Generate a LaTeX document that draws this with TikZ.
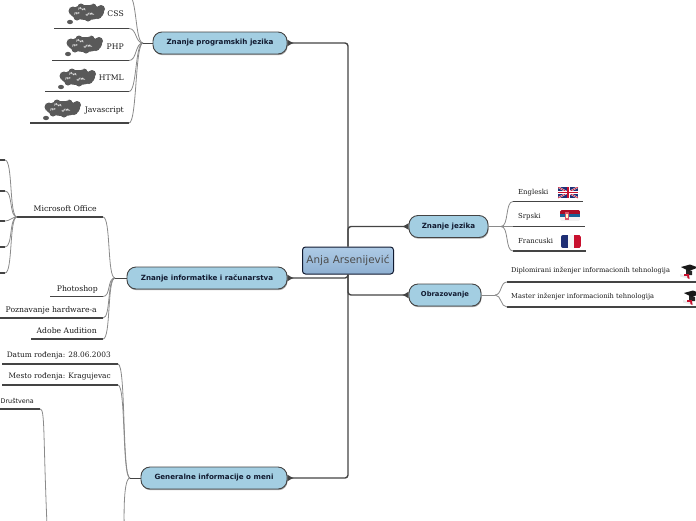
\documentclass[tikz,border=0pt]{standalone}
\usepackage{fontspec}
\setmainfont{DejaVu Serif}
\setsansfont{DejaVu Sans}
\usetikzlibrary{shadows,arrows.meta}
\definecolor{topicfill}{HTML}{A3CEE2}
\definecolor{rootup}{HTML}{AECBE6}
\definecolor{rootdown}{HTML}{8FB0D2}
\definecolor{linedark}{HTML}{444444}
\definecolor{linegray}{HTML}{8A8A8A}
\definecolor{inktext}{HTML}{111A30}
\definecolor{ukblue}{HTML}{1F2F75}
\definecolor{ukred}{HTML}{C8102E}
\tikzset{
  topic/.style={draw=linedark,line width=0.9pt,fill=topicfill,rounded corners=9pt,minimum height=22pt,
    inner sep=0pt,font=\sffamily\bfseries\fontsize{7.15}{9}\selectfont,text=inktext,
    drop shadow={shadow xshift=0.6pt,shadow yshift=-1.2pt,opacity=.35,fill=black}},
  rootbox/.style={draw=inktext,line width=1pt,rounded corners=3pt,top color=rootup,bottom color=rootdown,
    minimum width=91pt,minimum height=27pt,inner sep=0pt,text=black!70,font=\sffamily\fontsize{10.4}{12}\selectfont},
  leaf/.style={anchor=east,inner sep=0pt,font=\fontsize{7.7}{9}\selectfont,text=black!90},
  leafg/.style={anchor=east,inner sep=0pt,font=\fontsize{7.4}{9}\selectfont,text=black!90},
  leafw/.style={anchor=west,inner sep=0pt,font=\fontsize{6.9}{9}\selectfont,text=black!90},
  edu/.style={anchor=west,inner sep=0pt,font=\fontsize{6.68}{8}\selectfont,text=black!90},
  trunk/.style={draw=linedark,line width=1.4pt,rounded corners=3pt,{Latex[length=6.5pt,width=7pt,reversed]}-},
  under/.style={draw=linedark,line width=1.2pt},
  curve/.style={draw=linegray,line width=0.8pt,max distance=8pt},
  stub/.style={draw=linedark,line width=0.9pt},
  cloudpart/.style={fill=black!65,draw=none},
  cloudword/.style={text=white,inner sep=0pt,font=\sffamily\bfseries\fontsize{2.8}{3}\selectfont},
  pics/cloudy/.style={code={
    \fill[cloudpart] (19,8.5) ellipse (17 and 7.5);
    \fill[cloudpart] (5,7) circle (4.5) (13,3) circle (3.5) (25,3) circle (3.5) (33,5) circle (4) (9,13) circle (3.5) (20,14) circle (3.5) (30,11) circle (4);
    \fill[cloudpart] (2,18) ellipse (3 and 2.2);
    \node[cloudword] at (22,0.8) {PHP};
    \node[cloudword,rotate=-10] at (14,5.5) {JAVA};
    \node[cloudword,rotate=-10] at (9,10) {JSP};
    \node[cloudword,rotate=8] at (22,10.5) {HTML};
  }},
  pics/capicon/.style={code={
    \fill[black!8] (-7,11) -- (3,13.5) -- (3,16) -- (-7,13.5) -- cycle;
    \fill[black!85] (-1,6) -- (5,8) -- (5,12) -- (-1,12) -- cycle;
    \fill[black!90] (-6,4) -- (3,1.5) -- (11,4.5) -- (2,8) -- cycle;
    \fill[ukred] (-3,10.5) rectangle (2,12.5);
    \fill[ukred] (0,12) -- (2,12) -- (2.5,16) -- (0.5,15) -- cycle;
  }}
}
\begin{document}
\begin{tikzpicture}[x=1pt,y=-1pt]
\useasboundingbox (0,0) rectangle (696,520);
\clip (0,0) rectangle (696,520);
% --- nodes
\node[rootbox] (root) at (348,260.5) {Anja Arsenijević};
\node[topic,minimum width=134pt] (prog) at (220,43) {Znanje programskih jezika};
\node[topic,minimum width=160pt] (info) at (207,278) {Znanje informatike i računarstva};
\node[topic,minimum width=146pt] (gen) at (214,478) {Generalne informacije o meni};
\node[topic,minimum width=79pt] (jez) at (448.5,226.5) {Znanje jezika};
\node[topic,minimum width=72pt,font=\sffamily\bfseries\fontsize{6.8}{9}\selectfont] (obr) at (445,295) {Obrazovanje};
% --- trunk connectors
\draw[trunk] (prog.east) -| (root.north);
\draw[trunk] (info.east) -| (root.south);
\draw[trunk] (gen.east) -| (root.south);
\draw[trunk] (jez.west) -| (root.north);
\draw[trunk] (obr.west) -| (root.south);
% --- programming languages
\coordinate (progF) at (143,43);
\coordinate (topEnd) at (129,-4);
\foreach \nm/\xa/\yy in {css/54/28.5,php/52/60.5,html/45/91.5,js/30/123}{
  \coordinate (\nm A) at (\xa,\yy);
  \coordinate (\nm B) at (129,\yy);
  \draw[under] (\nm A) -- (\nm B);
  \draw[curve] (\nm B) to[out=0,in=180] (progF);
}
\draw[curve] (topEnd) to[out=0,in=180] (progF);
\draw[stub] (progF) -- (prog.west);
\node[leaf] (cssT) at (124,14) {CSS};
\node[leaf] (phpT) at (124,47) {PHP};
\node[leaf] (htmlT) at (124,78) {HTML};
\node[leaf] (jsT) at (124,110) {Javascript};
\pic at (68,4) {cloudy};
\pic at (66,36) {cloudy};
\pic at (59,69) {cloudy};
\pic at (44,100) {cloudy};
% --- informatics
\coordinate (infoF) at (115,278);
\foreach \nm/\xa/\yy in {ms/17/217,ps/50/296.5,hw/0/318,au/31/339}{
  \coordinate (\nm A) at (\xa,\yy);
  \coordinate (\nm B) at (103,\yy);
  \draw[under] (\nm A) -- (\nm B);
  \draw[curve] (\nm B) to[out=0,in=180] (infoF);
}
\draw[stub] (infoF) -- (info.west);
\node[leaf] (msT) at (97,209) {Microsoft Office};
\node[leaf] (psT) at (98,289) {Photoshop};
\node[leaf] (hwT) at (97,310) {Poznavanje hardware-a};
\node[leaf] (auT) at (97,331) {Adobe Audition};
\foreach \nm/\yy in {a/160,b/191,c/221,d/247,e/273}{
  \coordinate (sub\nm) at (5,\yy);
  \coordinate (sub\nm L) at (0,\yy);
  \draw[under] (sub\nm L) -- (sub\nm);
  \draw[curve] (sub\nm) to[out=0,in=180] (msA);
}
% --- general
\coordinate (genF) at (130,478);
\coordinate (druEnd) at (47,525);
\coordinate (botEnd) at (124,525);
\foreach \nm/\yy in {dat/364,mes/385}{
  \coordinate (\nm A) at (2,\yy);
  \coordinate (\nm B) at (118,\yy);
  \draw[under] (\nm A) -- (\nm B);
  \draw[curve] (\nm B) to[out=0,in=180] (genF);
}
\draw[curve] (genF) to[out=180,in=-85] (botEnd);
\draw[stub] (genF) -- (gen.west);
\node[leafg] (datT) at (111,356) {Datum rođenja: 28.06.2003};
\node[leafg] (mesT) at (111,377) {Mesto rođenja: Kragujevac};
\coordinate (druA) at (-2,409);
\coordinate (druB) at (40,409);
\draw[under] (druA) -- (druB);
\draw[curve] (druB) .. controls (45,409) and (43,430) .. (druEnd);
\node[leaf,font=\sffamily\fontsize{6.4}{8}\selectfont] (druT) at (34,401) {Društvena};
% --- languages
\coordinate (jezF) at (501,226.5);
\draw[curve] (jez.east) -- (jezF);
\foreach \nm/\xb/\yy in {en/583/201.5,sr/585/226.5,fr/586/251}{
  \coordinate (\nm A) at (513,\yy);
  \coordinate (\nm B) at (\xb,\yy);
  \draw[under] (\nm A) -- (\nm B);
  \draw[curve] (jezF) to[out=0,in=180] (\nm A);
}
\node[leafw] (enT) at (518,193) {Engleski};
\node[leafw] (srT) at (518,217) {Srpski};
\node[leafw] (frT) at (518,241) {Francuski};
% UK flag
\begin{scope}
\clip (558,187) rectangle (578,198);
\fill[ukblue] (558,187) rectangle (578,198);
\draw[white,line width=1.6pt] (558,187) -- (578,198) (558,198) -- (578,187);
\draw[ukred,line width=0.7pt] (558,187) -- (578,198) (558,198) -- (578,187);
\draw[white,line width=3pt] (568,187) -- (568,198) (558,192.5) -- (578,192.5);
\draw[ukred,line width=1.8pt] (568,187) -- (568,198) (558,192.5) -- (578,192.5);
\end{scope}
% Serbian flag
\begin{scope}
\clip[rounded corners=1.5pt] (560,210) rectangle (580,221);
\fill[ukred!85!black] (560,210) rectangle (580,213.7);
\fill[ukblue!75!cyan] (560,213.7) rectangle (580,217.3);
\fill[black!5] (560,217.3) rectangle (580,221);
\end{scope}
\fill[ukred!70!white] (565,212) rectangle (568.5,219.5);
\fill[white!80!yellow] (566,214) rectangle (567.5,217.5);
% French flag
\begin{scope}
\clip[rounded corners=2pt] (561,235) rectangle (581,248);
\fill[ukblue] (561,235) rectangle (567.7,248);
\fill[black!3] (567.7,235) rectangle (574.4,248);
\fill[ukred] (574.4,235) rectangle (581,248);
\end{scope}
% --- education
\coordinate (obrF) at (495,295);
\draw[curve] (obr.east) -- (obrF);
\foreach \nm/\yy in {dip/282,mas/307}{
  \coordinate (\nm A) at (507,\yy);
  \coordinate (\nm B) at (696,\yy);
  \draw[under] (\nm A) -- (\nm B);
  \draw[curve] (obrF) to[out=0,in=180] (\nm A);
}
\node[edu] (dipT) at (511,271) {Diplomirani inženjer informacionih tehnologija};
\node[edu] (masT) at (511,297) {Master inženjer informacionih tehnologija};
\pic at (687,263) {capicon};
\pic at (690,289) {capicon};
\end{tikzpicture}
\end{document}
